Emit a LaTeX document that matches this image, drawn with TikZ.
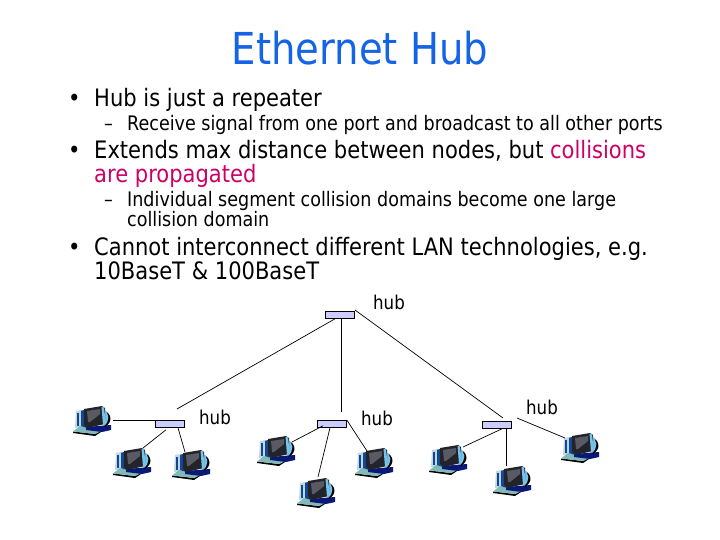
\documentclass[tikz,border=0pt]{standalone}
\usepackage{fontspec}
\setmainfont[FakeStretch=0.877]{DejaVu Sans}
\usetikzlibrary{calc}
\definecolor{titleblue}{RGB}{20,100,230}
\definecolor{hot}{RGB}{204,0,102}
\definecolor{hubfill}{RGB}{204,204,255}
\definecolor{pcdark}{RGB}{35,35,42}
\definecolor{pcscreen}{RGB}{90,90,100}
\definecolor{pcblue}{RGB}{20,70,150}
\definecolor{pccyan}{RGB}{120,195,235}
\definecolor{pcnavy}{RGB}{10,25,120}
\definecolor{pcteal}{RGB}{130,185,185}
\definecolor{pcgrey}{RGB}{190,215,225}
\tikzset{
  x=1pt,y=-1pt,
  lineL/.style={anchor=base west,inner sep=0pt,font=\fontsize{24}{24}\selectfont},
  lineS/.style={anchor=base west,inner sep=0pt,font=\fontsize{20}{20}\selectfont},
  hublabel/.style={anchor=center,inner sep=0pt,font=\fontsize{19}{19}\selectfont},
  hubbox/.style={draw=black,fill=hubfill,line width=0.8pt,minimum width=29pt,minimum height=7pt,inner sep=0pt,anchor=north west},
  wire/.style={draw=black,line width=0.7pt},
  pcslot/.style={minimum width=40pt,minimum height=29pt,inner sep=0pt,anchor=north west},
  computer/.pic={
      \fill[pcgrey] (3,5) -- (9,4) -- (9,21) -- (2,22) -- cycle;
      \fill[pcblue] (4,7) rectangle (6,20);
      \fill[black] (0,27) -- (22,30) -- (28,26) -- (28,25) -- (22,28) -- (0,25.5) -- cycle;
      \fill[pcteal] (0,25.5) -- (7,20) -- (24,21) -- (28,25) -- (22,28) -- cycle;
      \fill[pcnavy] (13,21) -- (38,19) -- (38,24) -- (29,26) -- (13,24) -- cycle;
      \fill[black] (30,4) .. controls (39,7) and (40,16) .. (32,21) -- (30,19) -- cycle;
      \fill[pccyan] (30,3) .. controls (37,7) and (37,15) .. (31,20) -- (30,19) -- cycle;
      \fill[pcblue] (8,5) -- (13,3) -- (14,22) -- (8,20) -- cycle;
      \fill[pcdark] (11,3) -- (29,0) -- (32,2) -- (32,18) -- (14,22) -- (11,19) -- cycle;
      \fill[pcscreen] (14,5) -- (27,3) -- (27,8) -- (17,16) -- (15,16) -- cycle;
      \fill[pccyan] (28.5,0.5) -- (31,1.5) -- (33,18) -- (30,19) -- cycle;
  }
}
\begin{document}
\begin{tikzpicture}
\useasboundingbox (0,0) rectangle (720,540);
\node[anchor=center,inner sep=0pt,text=titleblue,font=\fontsize{44}{44}\selectfont] (title) at (360,48) {Ethernet Hub};
\node[lineL] (b1) at (68,107) {•};
\node[lineL] (t1) at (94,107) {Hub is just a repeater};
\node[lineS] (d1) at (104,131) {–};
\node[lineS] (t2) at (127,131) {Receive signal from one port and broadcast to all other ports};
\node[lineL] (b2) at (68,159) {•};
\node[lineL] (t3) at (94,159) {Extends max distance between nodes, but \textcolor{hot}{collisions}};
\node[lineL,text=hot] (t4) at (94,183) {are propagated};
\node[lineS] (d2) at (104,207) {–};
\node[lineS] (t5) at (127,207) {Individual segment collision domains become one large};
\node[lineS] (t6) at (127,226) {collision domain};
\node[lineL] (b3) at (68,255) {•};
\node[lineL] (t7) at (94,255) {Cannot interconnect different LAN technologies, e.g.};
\node[lineL] (t8) at (94,279) {10BaseT \& 100BaseT};
\node[hublabel] (lT) at (389,302) {hub};
\node[hublabel] (lL) at (215,417) {hub};
\node[hublabel] (lM) at (377,418) {hub};
\node[hublabel] (lR) at (542,407) {hub};
\foreach \n/\px/\py in {1/73/406,2/113/448,3/172/450,4/257/436,5/297/478,6/355/448,7/429/445,8/493/466,9/561/433}{
  \node[pcslot] (c\n) at (\px,\py) {};
  \pic at (c\n.north west) {computer};
}
\coordinate (eL) at (177,409);
\coordinate (eM) at (341,412);
\coordinate (eR) at (503,418);
\coordinate (sR) at (355,310);
\coordinate (eR2) at (517,418);
\node[hubbox] (hT) at (325,311) {};
\node[hubbox] (hL) at (155,420) {};
\node[hubbox] (hM) at (317,420) {};
\node[hubbox] (hR) at (482,421) {};
\draw[wire] ([xshift=10pt]hT.south west) -- (eL);
\draw[wire] ([xshift=16pt]hT.south west) -- (eM);
\draw[wire] (sR) -- (eR);
\draw[wire] (c1.north east |- hL.north west) -- (hL.north west);
\draw[wire] ([shift={(11pt,-2pt)}]hL.south west) -- ([xshift=30pt]c2.north west);
\draw[wire] ([xshift=23pt]hL.south west) -- ([xshift=13pt,yshift=-2pt]c3.north west);
\draw[wire] ([shift={(6pt,2pt)}]hM.south west) -- ([shift={(35pt,-6pt)}]c4.north west);
\draw[wire] ([xshift=13pt]hM.south west) -- ([shift={(21pt,1pt)}]c5.north west);
\draw[wire] (hM.north east) -- ([shift={(12pt,-3pt)}]c6.north west);
\draw[wire] ([xshift=20pt]hR.south west) -- ([shift={(34pt,-2pt)}]c7.north west);
\draw[wire] ([xshift=24pt]hR.south west) -- ([xshift=13pt]c8.north west);
\draw[wire] (eR2) -- ([shift={(4pt,-5pt)}]c9.north west);
\end{tikzpicture}
\end{document}
